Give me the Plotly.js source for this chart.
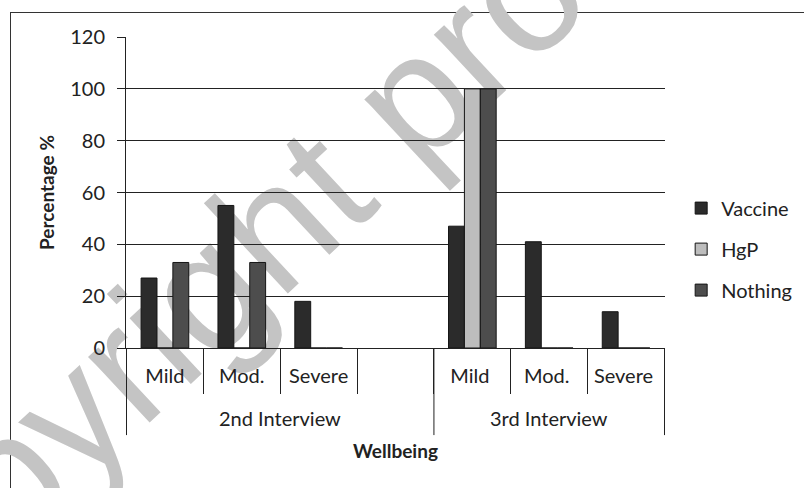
<!DOCTYPE html>
<html>
<head>
<meta charset="utf-8">
<script src="https://cdn.plot.ly/plotly-3.0.1.min.js"></script>
<style>
html,body{margin:0;padding:0;background:#fff;}
#chart{width:804px;height:488px;position:relative;}
#frame{position:absolute;left:10px;top:12px;width:900px;height:600px;border:1px solid #333;pointer-events:none;}
</style>
</head>
<body>
<div id="frame"></div>
<div id="chart" style="position:absolute;left:0;top:0;"></div>
<script>
// categories (trailing spaces keep the 3rd-interview ones distinct)
const categories = ["Mild","Mod.","Severe"," ","Mild ","Mod. ","Severe "];
const groupLabels = ["2nd Interview","3rd Interview"];
const groupCenters = [1.5, 5];
const groupBounds = [-0.5, 3.5, 6.5];
const vaccine = [27, 55, 18, null, 47, 41, 14];
const hgp = [0, 0, 0, null, 100, 0, 0];
const nothing = [33, 33, 0, null, 100, 0, 0];
const seriesNames = ["Vaccine","HgP","Nothing"];
const colors = ["#2b2b2b","#bdbdbd","#4d4d4d"];

const font = "Lato, 'Open Sans', sans-serif";
const data = [vaccine, hgp, nothing].map((v,i)=>({
  type:'bar', name:seriesNames[i], x:categories, y:v,
  marker:{color:colors[i], line:{color:'#151515', width:1}},
  legendgroup:'g'+i
}));

const annotations = groupLabels.map((t,i)=>({
  text:t, xref:'x', yref:'paper', x:groupCenters[i], y:-0.225, yanchor:'middle',
  showarrow:false, font:{size:20, color:'#222', family:font}
}));

const shapes = groupBounds.map(b=>({type:'line', xref:'x', yref:'paper', x0:b, x1:b, y0:0, y1:-0.28,
  line:{color:'#222', width:1}}));
// watermark, drawn between the gridlines and the bars
shapes.push({type:'rect', xref:'paper', yref:'paper', layer:'between',
  x0:0.077, x1:0.097, y0:0.15, y1:0.17, line:{width:0}, fillcolor:'rgba(0,0,0,0)',
  label:{text:'Copyright pro', textangle:-43, textposition:'middle center',
    font:{size:170, color:'#c4c4c4', family:"'Liberation Sans', Arial, sans-serif"}}});

const layout = {
  width:804, height:488,
  margin:{l:126, r:139, t:37, b:140, autoexpand:false},
  paper_bgcolor:'rgba(0,0,0,0)', plot_bgcolor:'rgba(0,0,0,0)',
  font:{family:font, size:20, color:'#222'},
  barmode:'group', bargap:0.38, bargroupgap:0,
  showlegend:true,
  legend:{x:1.03, y:0.318, yanchor:'middle', xanchor:'left', traceorder:'grouped', tracegroupgap:12, font:{size:20}, bgcolor:'rgba(0,0,0,0)'},
  xaxis:{type:'category', showline:true, linecolor:'#222', linewidth:1,
    ticks:'outside', tickson:'boundaries', ticklen:45, tickcolor:'#222',
    tickfont:{size:20}, showgrid:false, ticklabelstandoff:10,
    title:{text:'<b>Wellbeing</b>', font:{size:19}, standoff:58}},
  yaxis:{range:[0,120], dtick:20, showgrid:true, gridcolor:'#222', gridwidth:1,
    showline:true, linecolor:'#222', ticks:'outside', ticklen:8, tickcolor:'#222',
    tickfont:{size:20}, zeroline:false, ticklabelstandoff:8,
    title:{text:'<b>Percentage %</b>', font:{size:19}, standoff:10}},
  annotations:annotations,
  shapes:shapes
};
Plotly.newPlot('chart', data, layout, {displayModeBar:false, staticPlot:true});
</script>
</body>
</html>
